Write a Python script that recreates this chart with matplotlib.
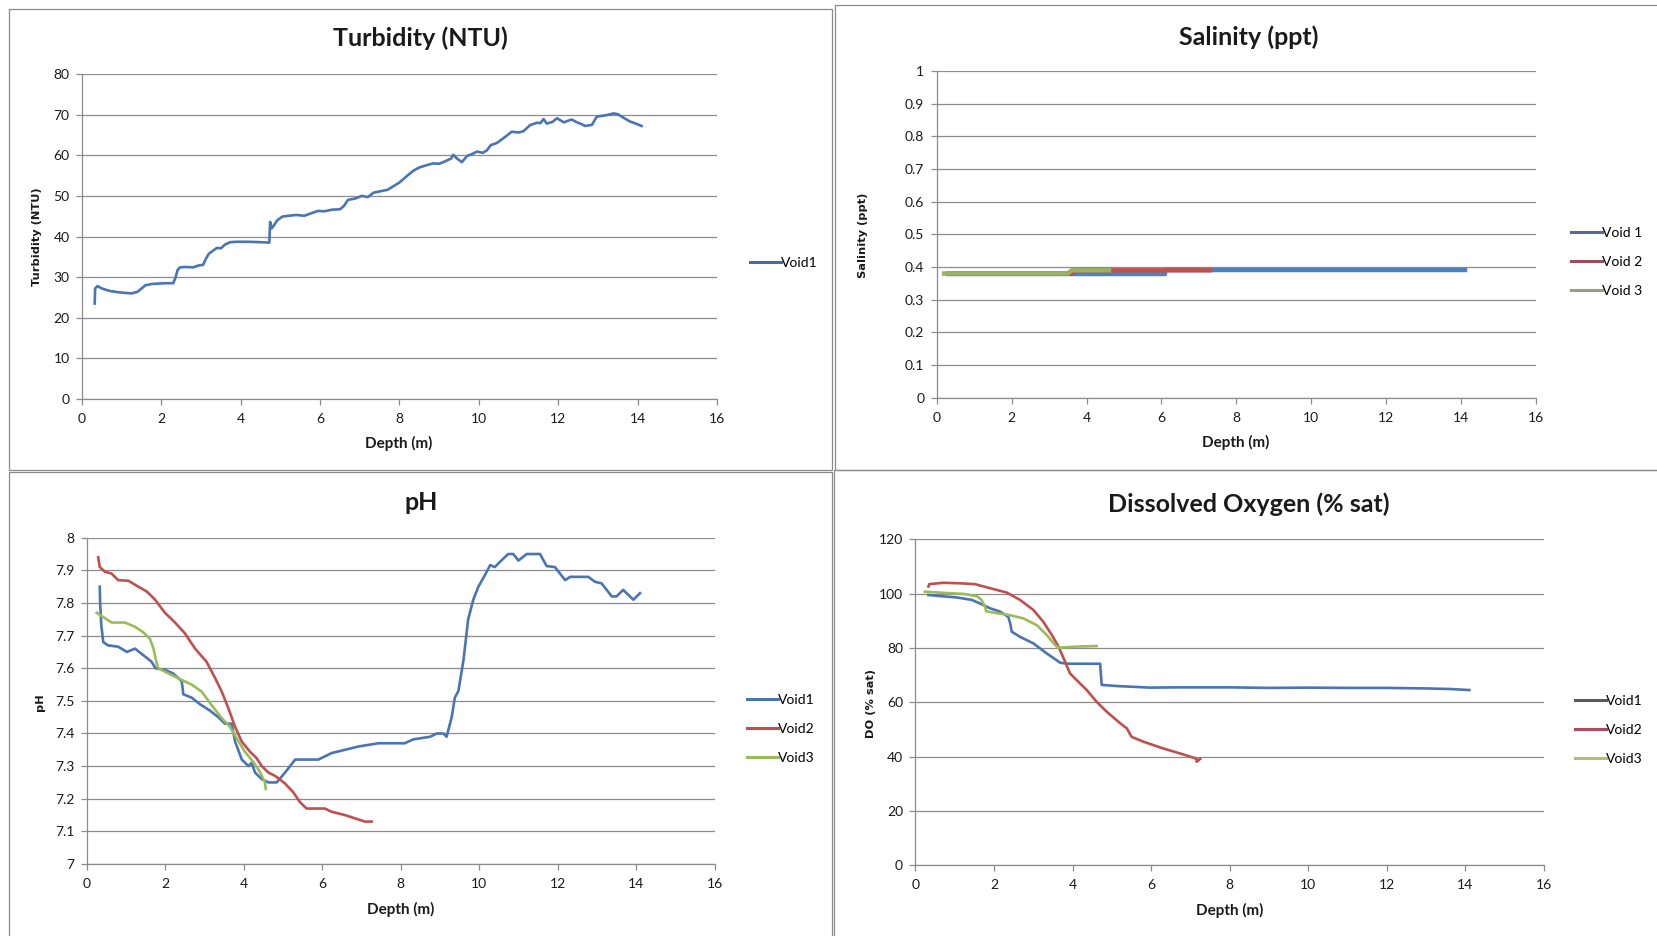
import matplotlib
matplotlib.use("Agg")
import matplotlib.pyplot as plt
from matplotlib.lines import Line2D
from matplotlib.patches import Rectangle
from matplotlib.ticker import FuncFormatter, MultipleLocator

W, H = 1658, 936
FONT = ["Lato", "DejaVu Sans"]
plt.rcParams["font.family"] = FONT

# ---------------- data ----------------
turb_depth = [0.32, 0.33, 0.39, 0.5, 0.7, 0.9, 1.1, 1.25, 1.4, 1.5,
              1.6, 1.75, 1.9, 2.1, 2.3, 2.36, 2.41, 2.47, 2.6, 2.8,
              2.95, 3.05, 3.12, 3.2, 3.3, 3.4, 3.5, 3.6, 3.73, 3.9,
              4.2, 4.5, 4.72, 4.74, 4.78, 4.84, 4.92, 5.05, 5.2, 5.4,
              5.6, 5.8, 5.95, 6.1, 6.3, 6.5, 6.6, 6.7, 6.9, 7.05,
              7.2, 7.35, 7.5, 7.7, 7.85, 8.0, 8.2, 8.35, 8.5, 8.7,
              8.85, 9.0, 9.15, 9.3, 9.35, 9.45, 9.57, 9.7, 9.85, 9.95,
              10.1, 10.2, 10.3, 10.45, 10.62, 10.83, 11.0, 11.12, 11.29, 11.46,
              11.55, 11.63, 11.71, 11.85, 11.97, 12.14, 12.25, 12.34, 12.45, 12.6,
              12.68, 12.85, 12.97, 13.1, 13.23, 13.4, 13.5, 13.65, 13.81, 13.95,
              14.1]
turb_ntu = [23.5, 27.2, 27.8, 27.2, 26.6, 26.3, 26.1, 26.0, 26.4, 27.2,
            28.0, 28.3, 28.4, 28.5, 28.5, 30.0, 31.8, 32.4, 32.5, 32.4,
            32.9, 33.0, 34.5, 35.8, 36.5, 37.2, 37.1, 38.0, 38.6, 38.7,
            38.7, 38.6, 38.5, 43.6, 42.0, 42.8, 44.0, 44.9, 45.1, 45.3,
            45.1, 45.8, 46.3, 46.2, 46.6, 46.7, 47.5, 49.0, 49.4, 50.0,
            49.7, 50.8, 51.1, 51.5, 52.4, 53.3, 55.0, 56.2, 57.0, 57.6,
            58.0, 57.9, 58.5, 59.2, 60.1, 59.2, 58.3, 59.8, 60.4, 60.9,
            60.6, 61.2, 62.5, 63.0, 64.2, 65.8, 65.6, 65.9, 67.4, 68.0,
            67.9, 68.9, 67.8, 68.2, 69.1, 68.1, 68.5, 68.8, 68.2, 67.6,
            67.2, 67.5, 69.5, 69.7, 69.9, 70.3, 70.1, 69.2, 68.3, 67.8,
            67.2]

sal1_depth = [0.3, 6.1, 6.1, 14.1]
sal1_ppt = [0.38, 0.38, 0.39, 0.39]
sal2_depth = [0.3, 3.6, 3.7, 7.3]
sal2_ppt = [0.38, 0.38, 0.39, 0.39]
sal3_depth = [0.2, 3.5, 3.6, 4.6]
sal3_ppt = [0.38, 0.38, 0.39, 0.39]

ph1_depth = [0.33, 0.34, 0.37, 0.42, 0.54, 0.8, 1.02, 1.23, 1.44, 1.65,
             1.75, 1.99, 2.2, 2.33, 2.42, 2.46, 2.67, 2.88, 3.14, 3.35,
             3.52, 3.69, 3.78, 3.95, 4.12, 4.2, 4.29, 4.46, 4.63, 4.84,
             5.05, 5.31, 5.9, 6.07, 6.24, 6.58, 6.92, 7.43, 8.1, 8.32,
             8.75, 8.92, 9.09, 9.17, 9.3, 9.38, 9.47, 9.6, 9.72, 9.85,
             9.98, 10.15, 10.28, 10.4, 10.53, 10.74, 10.87, 11.0, 11.21, 11.55,
             11.72, 11.93, 12.06, 12.19, 12.32, 12.78, 12.95, 13.12, 13.38, 13.5,
             13.67, 13.93, 14.1]
ph1_val = [7.85, 7.80, 7.73, 7.68, 7.67, 7.666, 7.65, 7.66, 7.64, 7.62,
           7.60, 7.595, 7.584, 7.57, 7.56, 7.52, 7.51, 7.49, 7.47, 7.45,
           7.43, 7.43, 7.375, 7.32, 7.30, 7.31, 7.28, 7.26, 7.25, 7.25,
           7.28, 7.32, 7.32, 7.33, 7.34, 7.35, 7.36, 7.37, 7.37, 7.382,
           7.39, 7.40, 7.40, 7.39, 7.45, 7.51, 7.53, 7.625, 7.75, 7.81,
           7.85, 7.886, 7.916, 7.91, 7.926, 7.95, 7.95, 7.93, 7.95, 7.95,
           7.913, 7.91, 7.89, 7.87, 7.88, 7.88, 7.865, 7.86, 7.82, 7.82,
           7.84, 7.81, 7.83]
ph2_depth = [0.29, 0.33, 0.46, 0.63, 0.8, 1.06, 1.31, 1.53, 1.74, 1.99,
             2.25, 2.5, 2.76, 3.05, 3.27, 3.44, 3.61, 3.78, 3.95, 4.16,
             4.33, 4.46, 4.63, 4.8, 5.05, 5.26, 5.43, 5.6, 6.07, 6.24,
             6.58, 6.83, 7.09, 7.26]
ph2_val = [7.94, 7.91, 7.896, 7.89, 7.87, 7.868, 7.85, 7.835, 7.81, 7.77,
           7.74, 7.707, 7.66, 7.62, 7.57, 7.528, 7.477, 7.42, 7.375, 7.344,
           7.324, 7.30, 7.28, 7.27, 7.247, 7.22, 7.19, 7.17, 7.17, 7.16,
           7.15, 7.14, 7.13, 7.13]
ph3_depth = [0.25, 0.38, 0.63, 0.97, 1.23, 1.44, 1.61, 1.7, 1.78, 1.82,
             2.08, 2.42, 2.67, 2.93, 3.18, 3.44, 3.65, 3.82, 4.03, 4.24,
             4.41, 4.54, 4.56]
ph3_val = [7.77, 7.76, 7.74, 7.74, 7.727, 7.71, 7.69, 7.66, 7.615, 7.60,
           7.584, 7.564, 7.55, 7.528, 7.487, 7.447, 7.42, 7.385, 7.344, 7.313,
           7.283, 7.25, 7.23]

do1_depth = [0.33, 0.62, 1.05, 1.43, 1.64, 1.9, 2.15, 2.36, 2.41, 2.45,
             2.66, 3.0, 3.34, 3.68, 3.85, 4.70, 4.74, 5.12, 5.97, 6.65,
             8.0, 9.0, 10.0, 11.0, 12.0, 13.0, 13.6, 14.1]
do1_sat = [99.5, 99.1, 98.6, 97.7, 96.4, 94.6, 93.4, 91.5, 89.1, 86.0,
           84.1, 81.7, 78.0, 74.6, 74.2, 74.2, 66.4, 66.0, 65.4, 65.5,
           65.5, 65.3, 65.4, 65.3, 65.3, 65.1, 64.9, 64.5]
do2_depth = [0.33, 0.35, 0.71, 1.13, 1.51, 1.9, 2.32, 2.66, 3.0, 3.25,
             3.47, 3.64, 3.81, 3.93, 4.1, 4.36, 4.61, 4.87, 5.21, 5.38,
             5.5, 5.8, 6.31, 6.82, 7.12, 7.2, 7.15, 7.25]
do2_sat = [102.6, 103.5, 104.0, 103.8, 103.5, 102.0, 100.4, 97.7, 94.0, 89.7,
           84.8, 80.5, 74.9, 70.7, 68.2, 64.5, 60.2, 56.5, 52.3, 50.4,
           47.3, 45.5, 43.0, 40.8, 39.4, 38.5, 38.2, 39.2]
do3_depth = [0.24, 0.71, 1.22, 1.56, 1.68, 1.77, 1.8, 2.07, 2.4, 2.74,
             3.09, 3.34, 3.55, 3.64, 4.1, 4.61]
do3_sat = [100.7, 100.3, 99.9, 99.1, 97.7, 95.2, 93.5, 92.8, 92.1, 90.9,
           88.4, 84.8, 81.1, 80.1, 80.5, 80.7]

# ---------------- styling ----------------
BLUE, RED, GREEN = "#4a74b4", "#c0504d", "#9bbb59"
GRID = "#8c8c8c"

fig = plt.figure(figsize=(W / 100, H / 100), dpi=100)
fig.patch.set_facecolor("white")


def fx(x):
    return x / W


def fy(y):
    return 1 - y / H


# panel borders
for (x0, y0, x1, y1) in [(9.5, 8.5, 832, 470), (835, 5, 1680, 470),
                         (9.5, 472, 832, 950), (834, 470, 1680, 950)]:
    fig.patches.append(Rectangle((fx(x0), fy(y1)), (x1 - x0) / W, (y1 - y0) / H,
                                 transform=fig.transFigure, fill=False,
                                 edgecolor="#8a8a8a", lw=0.9, zorder=0))


def make_axes(left, right, top, bottom, ymin, ymax, ystep, yfmt):
    ax = fig.add_axes([fx(left), fy(bottom), (right - left) / W, (bottom - top) / H])
    ax.set_xlim(0, 16)
    ax.set_ylim(ymin, ymax)
    ax.xaxis.set_major_locator(MultipleLocator(2))
    ax.yaxis.set_major_locator(MultipleLocator(ystep))
    ax.yaxis.set_major_formatter(FuncFormatter(yfmt))
    ax.xaxis.set_major_formatter(FuncFormatter(lambda v, p: f"{v:g}"))
    for s in ("top", "right"):
        ax.spines[s].set_visible(False)
    for s in ("left", "bottom"):
        ax.spines[s].set_color(GRID)
        ax.spines[s].set_linewidth(0.9)
    ax.grid(axis="y", color=GRID, lw=0.9)
    ax.set_axisbelow(True)
    ax.tick_params(axis="both", direction="out", length=4, width=0.9, color=GRID,
                   labelsize=10, labelcolor="#1a1a1a")
    ax.tick_params(axis="y", pad=5)
    ax.tick_params(axis="x", pad=6)
    return ax


def decorate(title, tx, ty, xl_x, xl_y, ylabel, yl_x, yl_y):
    fig.text(fx(tx), fy(ty), title, ha="center", va="center", fontsize=18,
             fontweight="bold", color="#1a1a1a")
    fig.text(fx(xl_x), fy(xl_y), "Depth (m)", ha="center", va="center", fontsize=11,
             fontweight="bold", color="#1a1a1a")
    fig.text(fx(yl_x), fy(yl_y), ylabel, ha="center", va="center", fontsize=8.2,
             fontweight="bold", rotation=90, color="#1a1a1a",
             family=["DejaVu Sans"])


def legend(ax, labels, colors, x, y):
    handles = [Line2D([], [], color=c, lw=2.2) for c in colors]
    ax.legend(handles, labels, loc="center left", bbox_to_anchor=(fx(x), fy(y)),
              bbox_transform=fig.transFigure, frameon=False, fontsize=10,
              handlelength=2.2, handletextpad=0.05, labelspacing=1.2,
              borderpad=0, borderaxespad=0)


# Turbidity
ax1 = make_axes(82, 717, 74, 399, 0, 80, 10, lambda v, p: f"{v:g}")
ax1.plot(turb_depth, turb_ntu, color=BLUE, lw=1.9)
decorate("Turbidity (NTU)", 420, 38, 399, 443, "Turbidity (NTU)", 37.5, 237)
legend(ax1, ["Void1"], ["#4d6a9e"], 750, 263)

# Salinity
ax2 = make_axes(936.7, 1536, 71, 397.7, 0, 1, 0.1, lambda v, p: f"{round(v, 2):g}")
ax2.plot(sal1_depth, sal1_ppt, color="#4f81bd", lw=3.2)
ax2.plot(sal2_depth, sal2_ppt, color=RED, lw=3.2)
ax2.plot(sal3_depth, sal3_ppt, color="#9bb163", lw=3.2)
decorate("Salinity (ppt)", 1249, 37, 1236, 442, "Salinity (ppt)", 863, 235)
legend(ax2, ["Void 1", "Void 2", "Void 3"], ["#55699a", "#9e4a5e", "#9a9f84"], 1571, 262)

# pH
ax3 = make_axes(86.8, 714.6, 537.7, 864, 7, 8, 0.1, lambda v, p: f"{round(v, 2):g}")
ax3.plot(ph1_depth, ph1_val, color=BLUE, lw=1.9)
ax3.plot(ph2_depth, ph2_val, color=RED, lw=1.9)
ax3.plot(ph3_depth, ph3_val, color=GREEN, lw=1.9)
decorate("pH", 421.6, 503, 400.7, 909.3, "pH", 40.2, 701.7)
legend(ax3, ["Void1", "Void2", "Void3"], [BLUE, RED, GREEN], 747, 729)

# Dissolved oxygen
ax4 = make_axes(915.5, 1544, 539.3, 865.3, 0, 120, 20, lambda v, p: f"{v:g}")
ax4.plot(do1_depth, do1_sat, color=BLUE, lw=1.9)
ax4.plot(do2_depth, do2_sat, color=RED, lw=1.9)
ax4.plot(do3_depth, do3_sat, color=GREEN, lw=1.9)
decorate("Dissolved Oxygen (% sat)", 1249, 504, 1230, 910, "DO (% sat)", 871, 703.3)
legend(ax4, ["Void1", "Void2", "Void3"], ["#5a5a5a", "#b0485e", "#b4bc7c"], 1575, 730)

fig.savefig("out.png", dpi=100, facecolor="white")
